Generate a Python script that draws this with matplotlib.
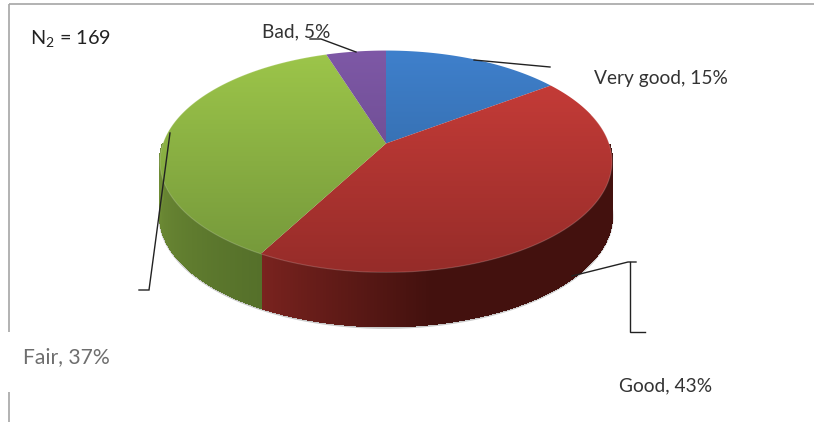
import numpy as np
import matplotlib
matplotlib.use("Agg")
import matplotlib.pyplot as plt
from matplotlib.patches import Polygon

# ---- data ----
categories = ["Very good", "Good", "Fair", "Bad"]
percent = [15, 43, 37, 5]
sample_note = "N$_2$ = 169"

# ---- style ----
top_light = ["#3F80CC", "#CC3E3A", "#9DC64A", "#7E58A6"]
top_dark = ["#2D5F96", "#962C29", "#73963A", "#5F4482"]
side_a = ["#2D5F96", "#7A231F", "#6E8C35", "#5F4482"]
side_b = ["#2D5F96", "#43110E", "#55702A", "#5F4482"]

plt.rcParams["font.family"] = ["Lato", "DejaVu Sans"]
plt.rcParams["mathtext.default"] = "regular"

W, H = 814, 428
fig = plt.figure(figsize=(W / 100, H / 100), dpi=100, facecolor="white")
ax = fig.add_axes([0, 0, 1, 1])
ax.set_xlim(0, W)
ax.set_ylim(H, 0)
ax.axis("off")

# perspective projection of the unit disc
CX, CY, BX, BY, K, DEPTH = 386, 143.5, 223, 108, 0.162, 54


def project(theta, radius=1.0, drop=0.0):
    u, v = radius * np.sin(theta), radius * np.cos(theta)
    w = 1 + K * v
    return CX + BX * u / w, CY - BY * v / w + drop


edges = np.radians(np.concatenate([[0], np.cumsum(percent)]) * 3.6)

# frame
for xs, ys in [([9, 814], [4, 4]), ([9, 9], [4, 332]), ([9, 9], [392, 422])]:
    ax.plot(xs, ys, color="#A6A6A6", lw=1.2, zorder=1, solid_capstyle="butt")

# soft shadow along the bottom rim
rim = np.linspace(np.radians(95), np.radians(268), 300)
rx, ry = project(rim, drop=DEPTH + 1)
ax.plot(rx, ry, color="#888888", lw=2.2, alpha=0.45, zorder=2)

# side wall, shaded along the rim
for i in range(len(percent)):
    a0, a1 = edges[i], edges[i + 1]
    n = max(int((a1 - a0) / np.radians(0.7)), 2)
    th = np.linspace(a0, a1, n + 1)
    c0 = np.array(matplotlib.colors.to_rgb(side_a[i]))
    c1 = np.array(matplotlib.colors.to_rgb(side_b[i]))
    for j in range(n):
        if np.cos(th[j]) > 0 or np.cos(th[j + 1]) > 0:
            continue  # back of the wall is hidden behind the top face
        x0, y0 = project(th[j])
        x1, y1 = project(th[j + 1])
        t = (th[j] - a0) / (a1 - a0)
        if i == 1:
            t = np.clip(1 - (th[j] - np.radians(170)) / np.radians(39), 0, 1)
        elif i == 2:
            t = np.clip(1 - (th[j] - a0) / np.radians(55), 0, 1)
        col = c0 * (1 - t) + c1 * t
        ax.add_patch(Polygon([(x0, y0), (x1, y1), (x1, y1 + DEPTH), (x0, y0 + DEPTH)],
                             closed=True, fc=col, ec=col, lw=0.8, antialiased=False,
                             zorder=3))

# top face: vertical gradient clipped to each slice
for i in range(len(percent)):
    th = np.linspace(edges[i], edges[i + 1], 200)
    x, y = project(th)
    verts = np.vstack([[CX, CY], np.column_stack([x, y])])
    clip = Polygon(verts, closed=True, transform=ax.transData, fc="none", ec="none")
    ax.add_patch(clip)
    c0 = np.array(matplotlib.colors.to_rgb(top_light[i]))
    c1 = np.array(matplotlib.colors.to_rgb(top_dark[i]))
    g = np.linspace(0, 1, 256)[:, None, None]
    img = c0[None, None, :] * (1 - g) + c1[None, None, :] * g
    im = ax.imshow(img, extent=[150, 625, 272, 50], aspect="auto", zorder=4,
                   interpolation="bilinear")
    im.set_clip_path(clip)
ax.set_xlim(0, W)
ax.set_ylim(H, 0)

# highlight along the front rim of the top face
rim = np.linspace(edges[1] + np.radians(20), edges[3], 300)
rx, ry = project(rim)
ax.plot(rx, ry, color="#FFFFFF", lw=0.8, alpha=0.18, zorder=5)

# leader lines
leaders = [
    ([474, 550], [60, 67]),
    ([310, 321, 356], [39, 39, 52]),
    ([170, 149, 139], [133, 290, 290]),
    ([572, 628, 636], [276, 262, 262]),
    ([630, 630, 645], [262, 332, 332]),
]
for xs, ys in leaders:
    ax.plot(xs, ys, color="#222222", lw=1.0, zorder=6, solid_joinstyle="miter")

# labels
label_pos = [(660.5, 78), (665.5, 386), (66, 357), (296, 32)]
label_col = ["#333333", "#333333", "#6E6E6E", "#333333"]
label_size = [13.8, 13.8, 15.2, 13.8]
for name, p, (lx, ly), col, fs in zip(categories, percent, label_pos, label_col, label_size):
    ax.text(lx, ly, f"{name}, {p}%", ha="center", va="center", fontsize=fs,
            color=col, zorder=7)
ax.text(30, 38, sample_note, ha="left", va="center", fontsize=14.3, color="#222222", zorder=7)

fig.savefig("out.png", dpi=100)
